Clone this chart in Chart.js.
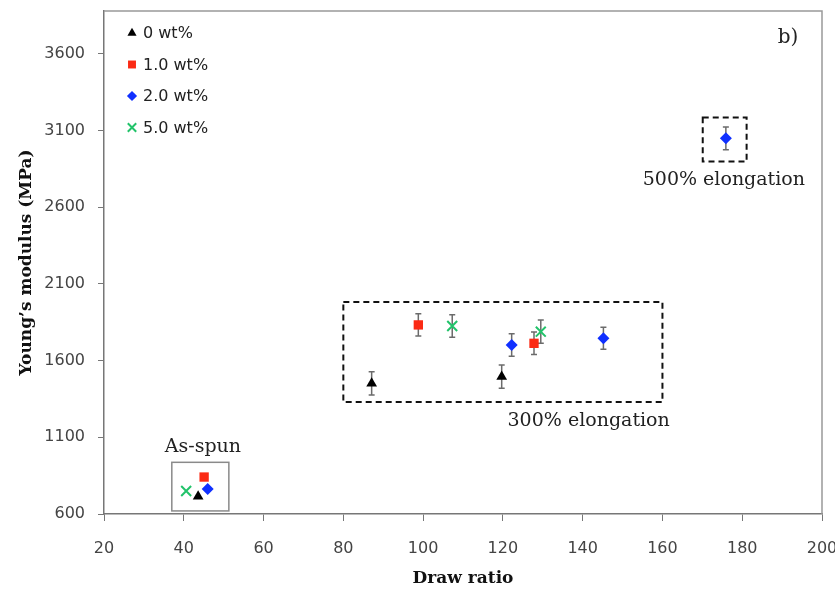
<!DOCTYPE html>
<html lang="en">

<head>
    <meta charset="UTF-8">
    <title>Young's modulus vs draw ratio</title>
    <script src="https://cdn.jsdelivr.net/npm/chart.js"></script>
    <style>
        body {
            margin: 0;
            padding: 0;
            background-color: #fff;
        }

        .chart-box {
            width: 835px;
            height: 589px;
        }
    </style>
</head>

<body>
    <div class="chart-box">
        <canvas id="myChart"></canvas>
    </div>

    <script>
        // Data
        const yTickValues = [600, 1100, 1600, 2100, 2600, 3100, 3600];
        const seriesNames = ['0 wt%', '1.0 wt%', '2.0 wt%', '5.0 wt%'];

        const drawRatio0 = [43.6, 87.1, 119.7];
        const modulus0 = [715, 1452, 1496];
        const error0 = [0, 76, 76];

        const drawRatio1 = [45.1, 98.8, 127.8];
        const modulus1 = [841, 1833, 1713];
        const error1 = [0, 72, 73];

        const drawRatio2 = [46.0, 122.2, 145.2, 175.9];
        const modulus2 = [763, 1702, 1746, 3050];
        const error2 = [0, 73, 72, 74];

        const drawRatio5 = [40.6, 107.3, 129.5];
        const modulus5 = [750, 1826, 1789];
        const error5 = [0, 74, 76];

        // annotation boxes (in data units)
        const boxLabels = ['As-spun', '300% elongation', '500% elongation'];
        const boxXMin = [37.0, 80, 170.1];
        const boxXMax = [51.3, 160, 181.1];
        const boxYMin = [620, 1330, 2898];
        const boxYMax = [937, 1983, 3185];
        const labelX = [44.8, 141.5, 175.4];
        const labelY = [1037, 1207, 2779];

        const colors = ['#000000', '#fb2a14', '#1030ff', '#22c36a'];
        const shapes = ['triangle', 'rect', 'rectRot', 'crossRot'];
        const radii = [6.2, 6.6, 6, 7];

        function makePoints(xs, ys) {
            return xs.map((x, i) => ({ x: x, y: ys[i] }));
        }

        const allX = [drawRatio0, drawRatio1, drawRatio2, drawRatio5];
        const allY = [modulus0, modulus1, modulus2, modulus5];
        const allErr = [error0, error1, error2, error5];

        const datasets = seriesNames.map((name, i) => ({
            label: name,
            data: makePoints(allX[i], allY[i]),
            errors: allErr[i],
            pointStyle: shapes[i],
            pointRadius: radii[i],
            pointHoverRadius: radii[i],
            backgroundColor: colors[i],
            borderColor: colors[i],
            pointBorderWidth: shapes[i] === 'crossRot' ? 2 : 0
        }));

        // error bars, drawn under the markers
        const errorBars = {
            id: 'errorBars',
            beforeDatasetsDraw(chart) {
                const ctx = chart.ctx;
                const xs = chart.scales.x, ys = chart.scales.y;
                ctx.save();
                ctx.strokeStyle = '#6b6b6b';
                ctx.lineWidth = 1.5;
                chart.data.datasets.forEach(ds => {
                    ds.data.forEach((p, i) => {
                        const e = ds.errors[i];
                        if (!e) return;
                        const px = xs.getPixelForValue(p.x);
                        const top = ys.getPixelForValue(p.y + e);
                        const bot = ys.getPixelForValue(p.y - e);
                        ctx.beginPath();
                        ctx.moveTo(px, top); ctx.lineTo(px, bot);
                        ctx.moveTo(px - 3, top); ctx.lineTo(px + 3, top);
                        ctx.moveTo(px - 3, bot); ctx.lineTo(px + 3, bot);
                        ctx.stroke();
                    });
                });
                ctx.restore();
            }
        };

        // frame, boxes, labels and the legend
        const extras = {
            id: 'extras',
            afterDraw(chart) {
                const ctx = chart.ctx;
                const a = chart.chartArea;
                const xs = chart.scales.x, ys = chart.scales.y;
                ctx.save();

                // top and right frame
                ctx.strokeStyle = '#999';
                ctx.lineWidth = 1.5;
                ctx.beginPath();
                ctx.moveTo(a.left, a.top);
                ctx.lineTo(a.right, a.top);
                ctx.lineTo(a.right, a.bottom);
                ctx.stroke();

                // boxes
                boxLabels.forEach((label, i) => {
                    const x1 = xs.getPixelForValue(boxXMin[i]);
                    const x2 = xs.getPixelForValue(boxXMax[i]);
                    const y1 = ys.getPixelForValue(boxYMax[i]);
                    const y2 = ys.getPixelForValue(boxYMin[i]);
                    if (i === 0) {
                        ctx.setLineDash([]);
                        ctx.strokeStyle = '#8a8a8a';
                        ctx.lineWidth = 1.5;
                    } else {
                        ctx.setLineDash([6, 4]);
                        ctx.strokeStyle = '#111';
                        ctx.lineWidth = 2;
                    }
                    ctx.strokeRect(x1, y1, x2 - x1, y2 - y1);
                    ctx.setLineDash([]);
                    ctx.fillStyle = '#222';
                    ctx.font = '19px "DejaVu Serif"';
                    ctx.textAlign = 'center';
                    ctx.textBaseline = 'middle';
                    ctx.fillText(label, xs.getPixelForValue(labelX[i]), ys.getPixelForValue(labelY[i]));
                });

                // panel letter
                ctx.font = '20px "DejaVu Serif"';
                ctx.fillText('b)', a.right - 34, a.top + 27);

                // legend
                ctx.font = '16px "DejaVu Sans"';
                ctx.textAlign = 'left';
                chart.data.datasets.forEach((ds, i) => {
                    const y = a.top + 22 + i * 31.5;
                    ctx.fillStyle = ds.backgroundColor;
                    ctx.strokeStyle = ds.borderColor;
                    ctx.lineWidth = ds.pointBorderWidth;
                    Chart.helpers.drawPoint(ctx, {
                        pointStyle: ds.pointStyle,
                        radius: ds.pointRadius * 0.85,
                        borderWidth: ds.pointBorderWidth
                    }, a.left + 28, y);
                    ctx.fillStyle = '#222';
                    ctx.fillText(ds.label, a.left + 39, y + 1);
                });
                ctx.restore();
            }
        };

        const ctx = document.getElementById('myChart').getContext('2d');
        const chart = new Chart(ctx, {
            type: 'scatter',
            data: { datasets: datasets },
            plugins: [errorBars, extras],
            options: {
                responsive: true,
                maintainAspectRatio: false,
                animation: false,
                layout: {
                    padding: { top: 11, right: 13, left: 12, bottom: 0 }
                },
                plugins: {
                    legend: { display: false },
                    tooltip: { enabled: false }
                },
                scales: {
                    x: {
                        min: 20,
                        max: 200,
                        afterFit(scale) {
                            scale.height = 75;
                            scale.paddingLeft = 0;
                            scale.paddingRight = 0;
                        },
                        ticks: {
                            stepSize: 20,
                            padding: 18,
                            color: '#444',
                            font: { family: 'DejaVu Sans', size: 16 }
                        },
                        grid: { drawOnChartArea: false, drawTicks: true, tickLength: 7, color: '#777' },
                        border: { display: true, color: '#777', width: 1.5 },
                        title: {
                            display: true,
                            text: 'Draw ratio',
                            color: '#111',
                            padding: { top: 0, bottom: 0 },
                            font: { family: 'DejaVu Serif', size: 17, weight: 'bold' }
                        }
                    },
                    y: {
                        min: 600,
                        max: 3880,
                        afterFit(scale) {
                            scale.width = 92;
                            scale.paddingTop = 0;
                            scale.paddingBottom = 0;
                        },
                        afterBuildTicks(scale) {
                            scale.ticks = yTickValues.map(v => ({ value: v }));
                        },
                        ticks: {
                            padding: 13,
                            color: '#444',
                            font: { family: 'DejaVu Sans', size: 16 },
                            callback: v => String(v)
                        },
                        grid: { drawOnChartArea: false, drawTicks: true, tickLength: 6, color: '#777' },
                        border: { display: true, color: '#777', width: 1.5 },
                        title: {
                            display: true,
                            text: 'Young\u2019s modulus (MPa)',
                            color: '#111',
                            padding: { top: 4, bottom: 4 },
                            font: { family: 'DejaVu Serif', size: 17, weight: 'bold' }
                        }
                    }
                }
            }
        });
    </script>
</body>

</html>
